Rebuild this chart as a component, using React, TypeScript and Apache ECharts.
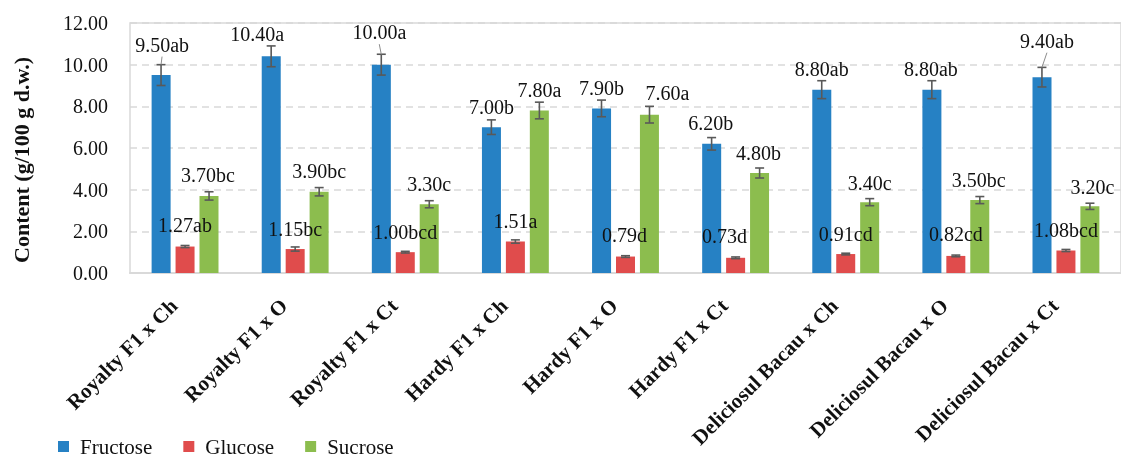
import { useEffect, useRef } from 'react';
import * as echarts from 'echarts';

const categories = [
  'Royalty F1 x Ch',
  'Royalty F1 x O',
  'Royalty F1 x Ct',
  'Hardy F1 x Ch',
  'Hardy F1 x O',
  'Hardy F1 x Ct',
  'Deliciosul Bacau x Ch',
  'Deliciosul Bacau x O',
  'Deliciosul Bacau x Ct',
];
const fructose = [9.5, 10.4, 10.0, 7.0, 7.9, 6.2, 8.8, 8.8, 9.4];
const glucose = [1.27, 1.15, 1.0, 1.51, 0.79, 0.73, 0.91, 0.82, 1.08];
const sucrose = [3.7, 3.9, 3.3, 7.8, 7.6, 4.8, 3.4, 3.5, 3.2];
const fructoseLetters = ['ab', 'a', 'a', 'b', 'b', 'b', 'ab', 'ab', 'ab'];
const glucoseLetters = ['ab', 'bc', 'bcd', 'a', 'd', 'd', 'cd', 'cd', 'bcd'];
const sucroseLetters = ['bc', 'bc', 'c', 'a', 'a', 'b', 'c', 'bc', 'c'];
const fructoseErr = [0.5, 0.5, 0.5, 0.35, 0.4, 0.3, 0.43, 0.43, 0.47];
const glucoseErr = [0.05, 0.1, 0.04, 0.08, 0.04, 0.04, 0.04, 0.04, 0.05];
const sucroseErr = [0.2, 0.2, 0.17, 0.4, 0.4, 0.24, 0.17, 0.17, 0.15];
const yTicks = [0, 2, 4, 6, 8, 10, 12];

// label nudges (pixels) as placed in the original figure
const fructoseLabelOffset: [number, number][] = [
  [1, -10], [-14, -1.5], [-2, -12], [0, 0], [0, 0], [-1, 0], [0, 0], [-1, 0], [5, -16],
];
const glucoseLabelOffset: [number, number][] = [
  [0, -1], [0, 0], [0, 0], [0, 0], [-1, -1.5], [-11, -1.5], [0, 0], [0, -1.5], [0, 0],
];
const sucroseLabelOffset: [number, number][] = [
  [-1, 0], [0, 0], [0, 0], [0, 0], [18, -1], [-1, 0], [0, 1], [-1, 0], [2.5, 1],
];
const fructoseLeader = [true, false, true, false, false, false, false, false, true];

const FONT = '"Liberation Serif", "Times New Roman", serif';
const COLORS = ['#2681C4', '#E04C4C', '#8CBD4E'];
const BAR_W = 19;
const STEP = 24;
const LABEL_DIST = 10.5;

export default function App() {
  const ref = useRef<HTMLDivElement>(null);
  useEffect(() => {
    const chart = echarts.init(ref.current!, null, { renderer: 'svg' });

    const mkBar = (
      name: string,
      vals: number[],
      letters: string[],
      offs: [number, number][],
      color: string
    ) => ({
      name,
      type: 'bar',
      barWidth: BAR_W,
      barGap: '26%',
      itemStyle: { color },
      data: vals.map((v, i) => ({
        value: v,
        label: { offset: offs[i] },
      })),
      label: {
        show: true,
        position: 'top',
        distance: LABEL_DIST,
        color: '#111',
        fontFamily: FONT,
        fontSize: 20,
        formatter: (p: any) => vals[p.dataIndex].toFixed(2) + letters[p.dataIndex],
      },
      z: 2,
    });

    const mkErr = (
      vals: number[],
      errs: number[],
      shift: number,
      leader?: boolean[],
      offs?: [number, number][]
    ) => ({
      type: 'custom',
      silent: true,
      z: 5,
      data: vals.map((v, i) => [i, v - errs[i], v + errs[i], v]),
      encode: { x: 0, y: [1, 2] },
      renderItem: (params: any, api: any) => {
        const i = api.value(0);
        const lo = api.coord([i, api.value(1)]);
        const hi = api.coord([i, api.value(2)]);
        const top = api.coord([i, api.value(3)]);
        const x = lo[0] + shift;
        const cap = 4.5;
        const style = { stroke: '#595959', lineWidth: 1.6 };
        const children: any[] = [
          { type: 'line', shape: { x1: x, y1: lo[1], x2: x, y2: hi[1] }, style },
          { type: 'line', shape: { x1: x - cap, y1: lo[1], x2: x + cap, y2: lo[1] }, style },
          { type: 'line', shape: { x1: x - cap, y1: hi[1], x2: x + cap, y2: hi[1] }, style },
        ];
        if (leader && offs && leader[params.dataIndex]) {
          const o = offs[params.dataIndex];
          const lb = top[1] - LABEL_DIST + o[1] + 2;
          children.push({
            type: 'line',
            shape: { x1: x + o[0], y1: lb, x2: x, y2: hi[1] },
            style: { stroke: '#8c8c8c', lineWidth: 1 },
          });
        }
        return { type: 'group', children };
      },
    });

    chart.setOption({
      animation: false,
      textStyle: { fontFamily: FONT },
      grid: {
        left: 130,
        right: -12,
        top: 23,
        bottom: 186,
        show: true,
        borderColor: '#d9d9d9',
        borderWidth: 1.5,
      },
      legend: {
        data: ['Fructose', 'Glucose', 'Sucrose'],
        left: 53,
        top: 431,
        itemWidth: 11,
        itemHeight: 11,
        itemGap: 31,
        icon: 'rect',
        textStyle: {
          fontFamily: FONT,
          fontSize: 21,
          color: '#111',
          padding: [0, 0, 0, 6],
        },
      },
      xAxis: {
        type: 'category',
        data: categories,
        axisLine: { lineStyle: { color: '#d9d9d9', width: 2 } },
        axisTick: { show: false },
        axisLabel: {
          interval: 0,
          rotate: 45,
          margin: 18,
          padding: [0, 16, 0, 0],
          color: '#111',
          fontFamily: FONT,
          fontSize: 21,
          fontWeight: 'bold',
        },
      },
      yAxis: {
        type: 'value',
        min: yTicks[0],
        max: yTicks[yTicks.length - 1],
        interval: 2,
        axisLine: { show: false },
        axisTick: { show: false },
        axisLabel: {
          margin: 22,
          color: '#111',
          fontFamily: FONT,
          fontSize: 20,
          formatter: (v: number) => v.toFixed(2),
        },
        splitLine: {
          lineStyle: { color: '#d9d9d9', width: 1.5, type: [7, 5] },
        },
      },
      graphic: [
        {
          type: 'text',
          x: 21,
          y: 160,
          rotation: Math.PI / 2,
          style: {
            text: 'Content (g/100 g d.w.)',
            fontFamily: FONT,
            fontSize: 22,
            fontWeight: 'bold',
            fill: '#111',
            textAlign: 'center',
            textVerticalAlign: 'middle',
          },
        },
      ],
      series: [
        mkBar('Fructose', fructose, fructoseLetters, fructoseLabelOffset, COLORS[0]),
        mkBar('Glucose', glucose, glucoseLetters, glucoseLabelOffset, COLORS[1]),
        mkBar('Sucrose', sucrose, sucroseLetters, sucroseLabelOffset, COLORS[2]),
        mkErr(fructose, fructoseErr, -STEP, fructoseLeader, fructoseLabelOffset),
        mkErr(glucose, glucoseErr, 0),
        mkErr(sucrose, sucroseErr, STEP),
      ],
    });
    return () => chart.dispose();
  }, []);
  return (
    <div
      ref={ref}
      style={{ position: 'fixed', left: 0, top: 0, width: 1121, height: 459 }}
    />
  );
}
